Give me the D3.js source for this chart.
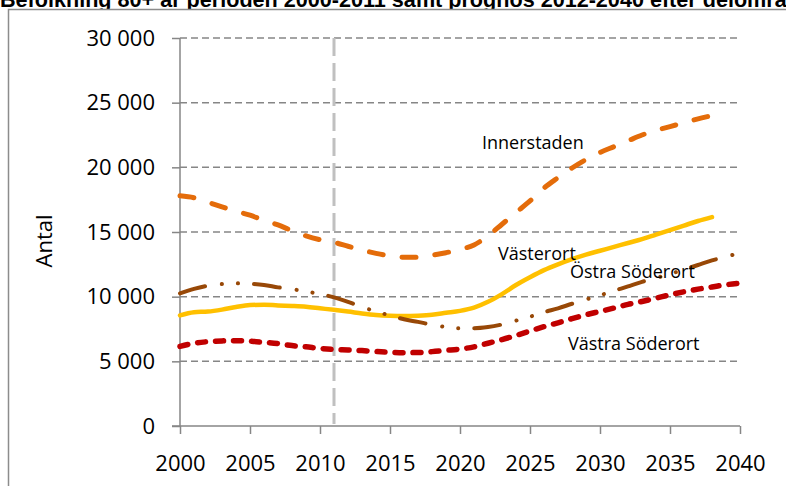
<!DOCTYPE html>
<html><head><meta charset="utf-8">
<script src="https://cdn.jsdelivr.net/npm/d3@7"></script>
<style>
html,body{margin:0;padding:0;background:#fff;overflow:hidden}
svg{display:block}
</style></head>
<body>
<svg id="c" width="786" height="486"></svg>
<script>
const title = "Befolkning 80+ år perioden 2000-2011 samt prognos 2012-2040 efter delområde";
const yLabel = "Antal";
const yTicks = [0, 5000, 10000, 15000, 20000, 25000, 30000];
const xTicks = [2000, 2005, 2010, 2015, 2020, 2025, 2030, 2035, 2040];
const dividerYear = 2011;

const innerstadenYears = d3.range(2000, 2040);
const innerstaden = [17800,17650,17300,16950,16600,16300,15900,15550,15100,14700,14400,14200,13900,13600,13350,13150,13050,13050,13200,13400,13650,14000,14700,15600,16500,17400,18400,19200,19950,20600,21150,21600,22050,22500,22850,23150,23450,23750,24000,24250];

const vasterortYears = d3.range(2000, 2039);
const vasterort = [8550,8800,8850,9000,9200,9350,9380,9320,9280,9220,9100,8980,8850,8700,8580,8520,8500,8530,8600,8750,8900,9150,9600,10200,10900,11500,12050,12500,12900,13250,13550,13850,14150,14450,14800,15150,15500,15850,16150];

const ostraYears = d3.range(2000, 2041);
const ostra = [10250,10600,10850,10980,11030,10990,10900,10720,10580,10400,10200,9950,9600,9200,8850,8550,8250,8050,7830,7650,7560,7560,7650,7850,8150,8450,8800,9100,9450,9780,10100,10450,10800,11150,11450,11750,12100,12450,12800,13100,13350];

const vastraYears = d3.range(2000, 2041);
const vastra = [6150,6400,6520,6580,6600,6560,6470,6370,6220,6120,6000,5920,5880,5830,5760,5700,5670,5680,5750,5850,5950,6120,6400,6680,7000,7350,7680,7980,8300,8600,8860,9120,9400,9630,9880,10150,10380,10580,10750,10920,11050];

const seriesNames = ["Innerstaden", "Västerort", "Östra Söderort", "Västra Söderort"];

const svg = d3.select("#c");
const x = d3.scaleLinear().domain([2000, 2040]).range([180, 740]);
const y = d3.scaleLinear().domain([0, 30000]).range([426, 38]);
const font = "'Open Sans', sans-serif";
const axisCol = "#868686";

// title (clipped at the top, as in the reference)
svg.append("text").attr("x", 0).attr("y", 7)
  .attr("font-family", "'Liberation Sans', Arial, sans-serif")
  .attr("font-weight", "bold").attr("font-size", 21.6)
  .attr("fill", "#000").text(title);

// frame
svg.append("rect").attr("x", 8.5).attr("y", 9.5).attr("width", 800).attr("height", 500)
  .attr("fill", "#fff").attr("stroke", "#8c8c8c").attr("stroke-width", 1.5);

// gridlines
svg.append("g").selectAll("line").data(yTicks.filter(d => d > 0)).join("line")
  .attr("x1", x(2000)).attr("x2", x(2040))
  .attr("y1", d => y(d)).attr("y2", d => y(d))
  .attr("stroke", axisCol).attr("stroke-width", 1.5).attr("stroke-dasharray", "7,4");

// y axis
const ya = svg.append("g").attr("transform", `translate(${x(2000)},0)`)
  .call(d3.axisLeft(y).tickValues(yTicks).tickSize(8).tickPadding(17)
    .tickFormat(d => d3.format(",")(d).replace(/,/g, " ")));
ya.select(".domain").attr("stroke", axisCol).attr("stroke-width", 1.5).attr("d", `M0,${y(0)}V${y(30000)}`);
ya.selectAll(".tick line").attr("stroke", axisCol).attr("stroke-width", 1.5);
ya.selectAll(".tick text").attr("font-family", font).attr("font-size", 22).attr("fill", "#000");

// x axis
const xa = svg.append("g").attr("transform", `translate(0,${y(0)})`)
  .call(d3.axisBottom(x).tickValues(xTicks).tickSize(8).tickPadding(21).tickFormat(d3.format("d")));
xa.select(".domain").attr("stroke", axisCol).attr("stroke-width", 1.5).attr("d", `M${x(2000)-8},0H${x(2040)}`);
xa.selectAll(".tick line").attr("stroke", axisCol).attr("stroke-width", 1.5);
xa.selectAll(".tick text").attr("font-family", font).attr("font-size", 22).attr("fill", "#000");

// y label
svg.append("text").attr("transform", `translate(52,241) rotate(-90)`)
  .attr("text-anchor", "middle").attr("font-family", font).attr("font-size", 22)
  .attr("fill", "#000").text(yLabel);

// divider line
svg.append("line").attr("x1", x(dividerYear)).attr("x2", x(dividerYear))
  .attr("y1", y(30000)).attr("y2", y(0) - 2)
  .attr("stroke", "#c0c0c0").attr("stroke-width", 3).attr("stroke-dasharray", "18,7");

const line = d3.line().x(d => x(d[0])).y(d => y(d[1])).curve(d3.curveMonotoneX);
const zip = (a, b) => a.map((v, i) => [v, b[i]]);

const series = [
  {name: seriesNames[0], pts: zip(innerstadenYears, innerstaden), color: "#E46C0A", w: 5, dash: "14,19"},
  {name: seriesNames[1], pts: zip(vasterortYears, vasterort), color: "#FFC000", w: 4.5, dash: null},
  {name: seriesNames[2], pts: zip(ostraYears, ostra), color: "#984807", w: 4, dash: "26,17,0.1,16,0.1,16"},
  {name: seriesNames[3], pts: zip(vastraYears, vastra), color: "#C00000", w: 5.5, dash: "8,10"}
];
// draw order: Västra, Västerort, Östra, Innerstaden
[series[3], series[1], series[2], series[0]].forEach(s => {
  svg.append("path").datum(s.pts).attr("d", line)
    .attr("fill", "none").attr("stroke", s.color).attr("stroke-width", s.w)
    .attr("stroke-linecap", "round").attr("stroke-linejoin", "round")
    .attr("stroke-dasharray", s.dash);
});

// series labels
const labels = [
  {t: seriesNames[0], x: 482, y: 149},
  {t: seriesNames[1], x: 498, y: 260},
  {t: seriesNames[2], x: 570, y: 278},
  {t: seriesNames[3], x: 568, y: 350}
];
svg.append("g").selectAll("text").data(labels).join("text")
  .attr("x", d => d.x).attr("y", d => d.y)
  .attr("font-family", font).attr("font-size", 18).attr("fill", "#000")
  .text(d => d.t);
</script>
</body></html>
